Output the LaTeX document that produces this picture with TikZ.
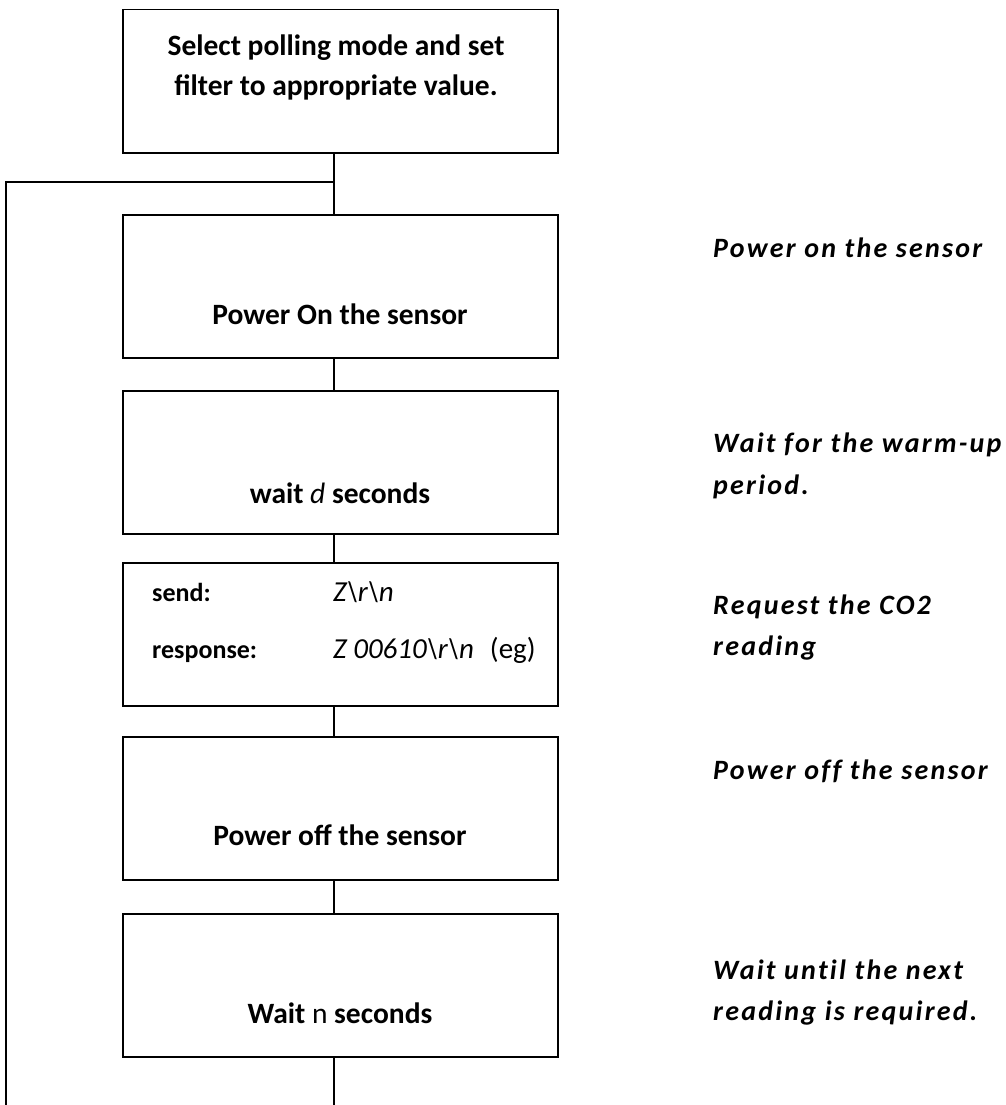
\documentclass[tikz,border=0pt]{standalone}
\usepackage{fontspec}
\setmainfont{Carlito}
\newfontfamily\labfont[LetterSpace=8,Ligatures=NoCommon]{Carlito}
\begin{document}
\begin{tikzpicture}[x=1pt,y=-1pt,
  stepbox/.style={draw=black,line width=1.5pt,minimum width=435pt,minimum height=143pt,inner sep=0pt,anchor=north west},
  conn/.style={draw=black,line width=1.5pt},
  btext/.style={font=\fontsize{29.5}{34}\selectfont\bfseries,inner sep=0pt,anchor=mid},
  ltext/.style={font=\fontsize{29}{34}\selectfont,inner sep=0pt,anchor=mid west},
  stext/.style={font=\fontsize{26}{30}\selectfont\bfseries,inner sep=0pt,anchor=mid west},
  note/.style={font=\fontsize{28}{32}\labfont\bfseries\itshape,inner sep=0pt,anchor=mid west}]
\useasboundingbox (0,0) rectangle (1005,1105);
% boxes
\node[stepbox] (b1) at (122,9) {};
\node[stepbox] (b2) at (122,214) {};
\node[stepbox] (b3) at (122,390) {};
\node[stepbox] (b4) at (122,562) {};
\node[stepbox] (b5) at (122,736) {};
\node[stepbox] (b6) at (122,913) {};
% connector points
\coordinate (j) at (334,182);
\coordinate (lc) at (6,182);
\coordinate (lend) at (6,1105);
\coordinate (bend) at (334,1105);
\draw[conn] (b1.south -| j) -- (b2.north -| j);
\draw[conn] (b2.south -| j) -- (b3.north -| j);
\draw[conn] (b3.south -| j) -- (b4.north -| j);
\draw[conn] (b4.south -| j) -- (b5.north -| j);
\draw[conn] (b5.south -| j) -- (b6.north -| j);
\draw[conn] (b6.south -| j) -- (bend);
\draw[conn] (j) -- (lc) -- (lend);
% box texts
\node[btext] (t1a) at (336,53) {Select polling mode and set};
\node[btext] (t1b) at (336,93) {filter to appropriate value.};
\node[btext] (t2) at (340,322) {Power On the sensor};
\node[btext] (t3) at (340,501) {wait \textmd{\itshape d} seconds};
\node[stext] (t4a) at (152,599) {send:};
\node[ltext] (t4b) at (333,599) {\itshape Z\textbackslash r\textbackslash n};
\node[stext] (t4c) at (152,656) {response:};
\node[ltext] (t4d) at (333,656) {\itshape Z 00610\textbackslash r\textbackslash n\upshape\hspace{16pt}(eg)};
\node[btext] (t5) at (340,843) {Power off the sensor};
\node[btext] (t6) at (340,1021) {Wait \textmd{n} seconds};
% notes
\node[note] (n1) at (713,255) {Power on the sensor};
\node[note] (n2a) at (713,450) {Wait for the warm-up};
\node[note] (n2b) at (713,492) {period.};
\node[note] (n3a) at (713,612) {Request the CO2};
\node[note] (n3b) at (713,653) {reading};
\node[note] (n4) at (713,777) {Power off the sensor};
\node[note] (n5a) at (713,977) {Wait until the next};
\node[note] (n5b) at (713,1018) {reading is required.};
\end{tikzpicture}
\end{document}
